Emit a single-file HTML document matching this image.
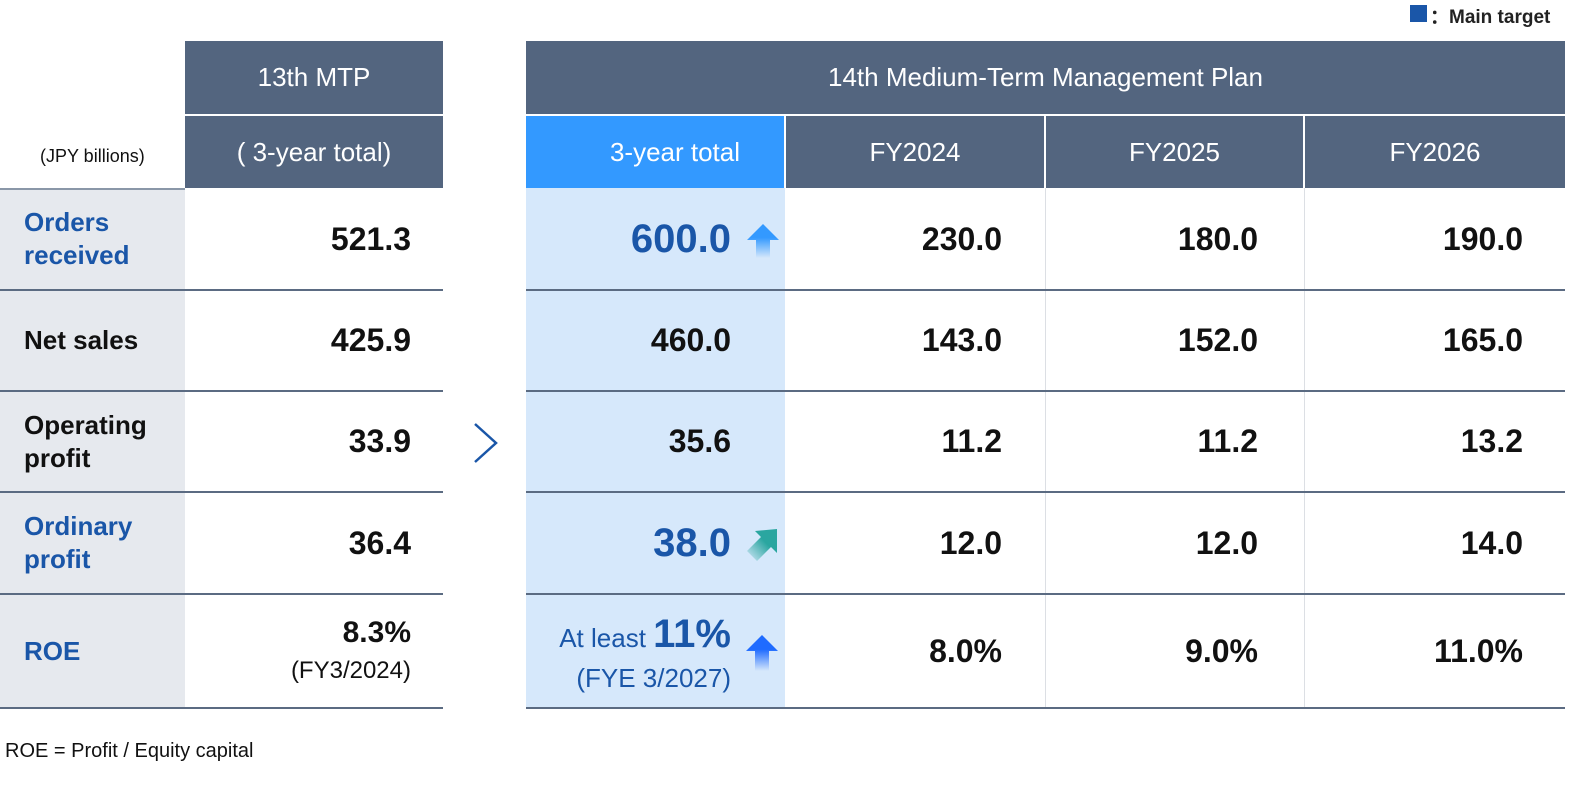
<!DOCTYPE html>
<html><head><meta charset="utf-8"><style>
body{margin:0;width:1592px;height:805px;background:#fff;position:relative;overflow:hidden;font-family:"Liberation Sans",sans-serif;font-weight:bold}
div{position:absolute;box-sizing:border-box}
.hd{background:#53657f;color:#fff;font-size:26px;font-weight:normal;display:flex;align-items:center;justify-content:center}
.lab{left:0;width:185px;background:#e6e9ee;font-size:26px;padding-left:24px;display:flex;align-items:center;line-height:33px}
.blue{color:#1a56a8}
.v{font-size:32px;text-align:right;display:flex;align-items:center;justify-content:flex-end;color:#111}
.line{height:2px;background:#5b6b82}
.vl{width:1px;background:#dcdfe4}
</style></head><body>
<div style="left:1410px;top:5px;width:17px;height:17px;background:#1a56a8"></div>
<div style="left:1430px;top:2px;font-size:19px;color:#222">：Main target</div>

<div class="hd" style="left:185px;top:41px;width:258px;height:73px">13th MTP</div>
<div class="hd" style="left:185px;top:116px;width:258px;height:72px">( 3-year total)</div>
<div style="left:40px;top:146px;font-size:18px;font-weight:normal;color:#111">(JPY billions)</div>

<div class="hd" style="left:526px;top:41px;width:1039px;height:73px">14th Medium-Term Management Plan</div>
<div class="hd" style="left:526px;top:116px;width:258px;height:72px;background:#3399ff;padding-left:40px">3-year total</div>
<div class="hd" style="left:786px;top:116px;width:258px;height:72px">FY2024</div>
<div class="hd" style="left:1046px;top:116px;width:257px;height:72px">FY2025</div>
<div class="hd" style="left:1305px;top:116px;width:260px;height:72px">FY2026</div>

<div style="left:526px;top:188px;width:259px;height:520px;background:#d6e8fb"></div>
<div class="vl" style="left:1045px;top:188px;height:520px"></div>
<div class="vl" style="left:1304px;top:188px;height:520px"></div>

<!-- rows -->
<div class="lab blue" style="top:188px;height:102px">Orders<br>received</div>
<div class="lab" style="top:290px;height:101px;color:#111">Net sales</div>
<div class="lab" style="top:391px;height:101px;color:#111">Operating<br>profit</div>
<div class="lab blue" style="top:492px;height:102px">Ordinary<br>profit</div>
<div class="lab blue" style="top:594px;height:114px">ROE</div>

<div class="v" style="left:185px;top:188px;width:226px;height:102px">521.3</div>
<div class="v" style="left:185px;top:290px;width:226px;height:101px">425.9</div>
<div class="v" style="left:185px;top:391px;width:226px;height:101px">33.9</div>
<div class="v" style="left:185px;top:492px;width:226px;height:102px">36.4</div>
<div style="left:185px;top:615px;width:226px;text-align:right;font-size:30px;color:#111;line-height:36px">8.3%<br><span style="font-size:24px;font-weight:normal">(FY3/2024)</span></div>

<div class="v blue" style="left:526px;top:188px;width:205px;height:102px;font-size:40px;color:#1a56a8">600.0</div>
<div class="v" style="left:526px;top:290px;width:205px;height:101px">460.0</div>
<div class="v" style="left:526px;top:391px;width:205px;height:101px">35.6</div>
<div class="v" style="left:526px;top:492px;width:205px;height:102px;font-size:40px;color:#1a56a8">38.0</div>
<div style="left:526px;top:614px;width:205px;text-align:right;color:#1a56a8;font-size:26px;line-height:40px;font-weight:normal">At least <b style="font-size:40px">11%</b><br>(FYE 3/2027)</div>

<svg style="position:absolute;left:745px;top:222px" width="36" height="38"><defs><linearGradient id="g1" x1="0" y1="0" x2="0" y2="1"><stop offset="0.4" stop-color="#3399ff"/><stop offset="1" stop-color="#3399ff" stop-opacity="0"/></linearGradient></defs><path d="M18 2 L34 18 L25 18 L25 36 L11 36 L11 18 L2 18 Z" fill="url(#g1)"/></svg>
<svg style="position:absolute;left:745px;top:527px" width="34" height="34"><defs><linearGradient id="g2" x1="1" y1="0" x2="0" y2="1"><stop offset="0.4" stop-color="#2aa6a0"/><stop offset="1" stop-color="#2aa6a0" stop-opacity="0"/></linearGradient></defs><path d="M32 2 L32 26 L26 20 L12 34 L2 24 L16 10 L10 4 Z" fill="url(#g2)"/></svg>
<svg style="position:absolute;left:744px;top:633px" width="36" height="40"><defs><linearGradient id="g3" x1="0" y1="0" x2="0" y2="1"><stop offset="0.4" stop-color="#1f6bff"/><stop offset="1" stop-color="#1f6bff" stop-opacity="0"/></linearGradient></defs><path d="M18 2 L34 18 L25 18 L25 38 L11 38 L11 18 L2 18 Z" fill="url(#g3)"/></svg>

<div class="v" style="left:786px;top:188px;width:216px;height:102px">230.0</div>
<div class="v" style="left:1046px;top:188px;width:212px;height:102px">180.0</div>
<div class="v" style="left:1305px;top:188px;width:218px;height:102px">190.0</div>
<div class="v" style="left:786px;top:290px;width:216px;height:101px">143.0</div>
<div class="v" style="left:1046px;top:290px;width:212px;height:101px">152.0</div>
<div class="v" style="left:1305px;top:290px;width:218px;height:101px">165.0</div>
<div class="v" style="left:786px;top:391px;width:216px;height:101px">11.2</div>
<div class="v" style="left:1046px;top:391px;width:212px;height:101px">11.2</div>
<div class="v" style="left:1305px;top:391px;width:218px;height:101px">13.2</div>
<div class="v" style="left:786px;top:492px;width:216px;height:102px">12.0</div>
<div class="v" style="left:1046px;top:492px;width:212px;height:102px">12.0</div>
<div class="v" style="left:1305px;top:492px;width:218px;height:102px">14.0</div>
<div class="v" style="left:786px;top:594px;width:216px;height:114px">8.0%</div>
<div class="v" style="left:1046px;top:594px;width:212px;height:114px">9.0%</div>
<div class="v" style="left:1305px;top:594px;width:218px;height:114px">11.0%</div>

<!-- row lines -->
<div class="line" style="left:0;top:188px;width:185px;background:#8a97a8"></div>
<div class="line" style="left:0;top:289px;width:443px"></div>
<div class="line" style="left:0;top:390px;width:443px"></div>
<div class="line" style="left:0;top:491px;width:443px"></div>
<div class="line" style="left:0;top:593px;width:443px"></div>
<div class="line" style="left:0;top:707px;width:443px"></div>
<div class="line" style="left:526px;top:289px;width:1039px"></div>
<div class="line" style="left:526px;top:390px;width:1039px"></div>
<div class="line" style="left:526px;top:491px;width:1039px"></div>
<div class="line" style="left:526px;top:593px;width:1039px"></div>
<div class="line" style="left:526px;top:707px;width:1039px"></div>

<svg style="position:absolute;left:472px;top:422px" width="28" height="42"><path d="M3 2 L24 21 L3 40" fill="none" stroke="#1a56a8" stroke-width="2.5"/></svg>

<div style="left:5px;top:740px;font-size:20px;font-weight:normal;color:#111">ROE = Profit / Equity capital</div>
</body></html>
